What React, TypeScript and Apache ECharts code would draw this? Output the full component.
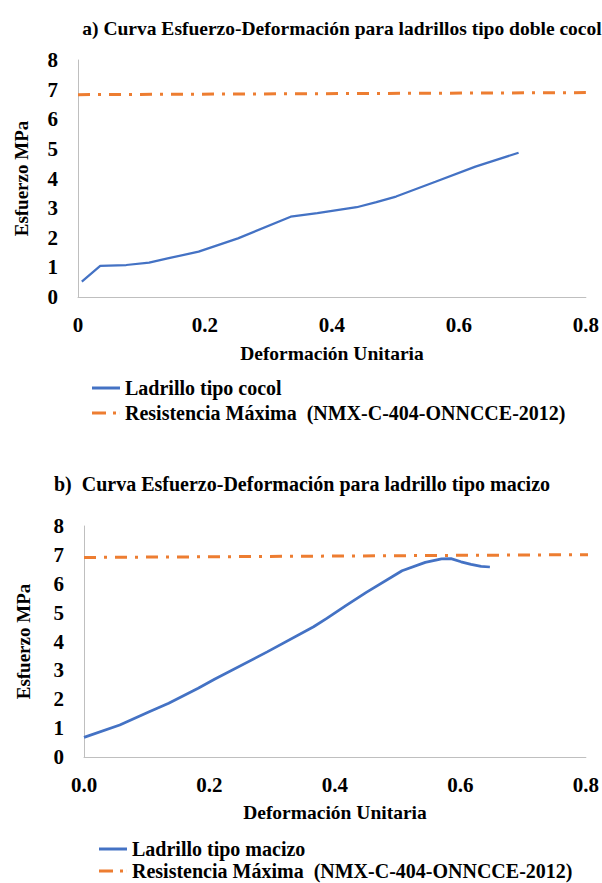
import React, { useEffect, useRef } from "react";
import * as echarts from "echarts";

const titleA = "a) Curva Esfuerzo-Deformación para ladrillos tipo doble cocol";
const titleB = "b)  Curva Esfuerzo-Deformación para ladrillo tipo macizo";
const xName = "Deformación Unitaria";
const yName = "Esfuerzo MPa";
const seriesA = "Ladrillo tipo cocol";
const seriesB = "Ladrillo tipo macizo";
const seriesLimit = "Resistencia Máxima  (NMX-C-404-ONNCCE-2012)";

const cocolCurve: [number, number][] = [
  [0.006, 0.52], [0.035, 1.05], [0.076, 1.08], [0.112, 1.16], [0.143, 1.31],
  [0.19, 1.53], [0.252, 1.98], [0.335, 2.71], [0.377, 2.83], [0.439, 3.03],
  [0.47, 3.2], [0.501, 3.39], [0.563, 3.89], [0.626, 4.4], [0.694, 4.87],
];
const cocolLimit: [number, number][] = [[0, 6.83], [0.8, 6.9]];

const macizoCurve: [number, number][] = [
  [0, 0.68], [0.057, 1.11], [0.104, 1.57], [0.135, 1.86], [0.182, 2.38],
  [0.208, 2.69], [0.292, 3.64], [0.366, 4.51], [0.387, 4.8], [0.418, 5.25],
  [0.45, 5.7], [0.507, 6.45], [0.544, 6.74], [0.57, 6.86], [0.585, 6.87],
  [0.601, 6.76], [0.617, 6.67], [0.633, 6.6], [0.647, 6.58],
];
const macizoLimit: [number, number][] = [[0, 6.91], [0.815, 7.01]];

const FONT = "Liberation Serif, Times New Roman, serif";
const BLUE = "#4472C4";
const ORANGE = "#ED7D31";
const AXIS = "#BFBFBF";

const ICON_SOLID = "path://M0,0 L28,0 L28,3 L0,3 Z";
const ICON_DASHDOT = "path://M0,0 L14,0 L14,3 L0,3 Z M21,0 L24,0 L24,3 L21,3 Z M27.9,0 L28,0 L28,3 L27.9,3 Z";

export default function App() {
  const ref = useRef<HTMLDivElement>(null);
  useEffect(() => {
    if (!ref.current) return;
    const chart = echarts.init(ref.current, undefined, { renderer: "svg" });
    const xAxisBase = (gridIndex: number, nameGap: number, fmt: (v: number) => string) => ({
      type: "value" as const,
      gridIndex,
      min: 0,
      max: 0.8,
      interval: 0.2,
      name: xName,
      nameLocation: "middle" as const,
      nameGap,
      nameTextStyle: { fontFamily: FONT, fontWeight: "bold", fontSize: 19.5, color: "#000" },
      axisLine: { show: true, lineStyle: { color: AXIS, width: 1 } },
      axisTick: { show: false },
      splitLine: { show: false },
      axisLabel: {
        fontFamily: FONT, fontWeight: "bold", fontSize: 21, color: "#000", margin: 17,
        formatter: fmt,
      },
    });
    const yAxisBase = (gridIndex: number, nameGap: number) => ({
      type: "value" as const,
      gridIndex,
      min: 0,
      max: 8,
      interval: 1,
      name: yName,
      nameLocation: "middle" as const,
      nameGap,
      nameTextStyle: { fontFamily: FONT, fontWeight: "bold", fontSize: 19, color: "#000" },
      axisLine: { show: true, lineStyle: { color: AXIS, width: 1 } },
      axisTick: { show: false },
      splitLine: { show: false },
      axisLabel: { fontFamily: FONT, fontWeight: "bold", fontSize: 21, color: "#000", margin: 20 },
    });
    const limitStyle = { color: ORANGE, width: 3, type: [12, 8, 3, 8] as number[] };
    const legendText = { fontFamily: FONT, fontWeight: "bold", fontSize: 20, color: "#000" };
    const legendItem = (name: string, icon: string, left: number, top: number, color: string) => ({
      orient: "horizontal", left, top, padding: 0, itemWidth: 28, itemHeight: 3, itemGap: 8,
      icon, data: [{ name, icon, itemStyle: { color } }],
      textStyle: legendText,
    });
    chart.setOption({
      animation: false,
      backgroundColor: "#fff",
      title: [
        {
          text: titleA, left: 337, top: 13, textAlign: "center",
          textStyle: { fontFamily: FONT, fontWeight: "bold", fontSize: 19.5, color: "#000" },
        },
        {
          text: titleB, left: 297, top: 469, textAlign: "center",
          textStyle: { fontFamily: FONT, fontWeight: "bold", fontSize: 20, color: "#000" },
        },
      ],
      legend: [
        legendItem(seriesA, ICON_SOLID, 92, 378, BLUE),
        legendItem(seriesLimit, ICON_DASHDOT, 92, 403, ORANGE),
        legendItem(seriesB, ICON_SOLID, 99, 839, BLUE),
        legendItem(seriesLimit + " ", ICON_DASHDOT, 99, 861, ORANGE),
      ],
      grid: [
        { left: 78, right: 10, top: 60, height: 237 },
        { left: 84, right: 9, top: 526, height: 231 },
      ],
      xAxis: [
        xAxisBase(0, 46, (v: number) => (v === 0 ? "0" : v.toFixed(1))),
        xAxisBase(1, 45, (v: number) => v.toFixed(1)),
      ],
      yAxis: [yAxisBase(0, 47), yAxisBase(1, 51)],
      series: [
        {
          name: seriesA, type: "line", xAxisIndex: 0, yAxisIndex: 0, data: cocolCurve,
          showSymbol: false, symbol: "none", lineStyle: { color: BLUE, width: 2.25 },
          itemStyle: { color: BLUE },
        },
        {
          name: seriesLimit, type: "line", xAxisIndex: 0, yAxisIndex: 0, data: cocolLimit,
          showSymbol: false, symbol: "none", lineStyle: limitStyle, itemStyle: { color: ORANGE },
        },
        {
          name: seriesB, type: "line", xAxisIndex: 1, yAxisIndex: 1, data: macizoCurve,
          showSymbol: false, symbol: "none", lineStyle: { color: BLUE, width: 2.75 },
          itemStyle: { color: BLUE },
        },
        {
          name: seriesLimit + " ", type: "line", xAxisIndex: 1, yAxisIndex: 1, data: macizoLimit,
          showSymbol: false, symbol: "none", lineStyle: limitStyle, itemStyle: { color: ORANGE },
        },
      ],
    });
    return () => chart.dispose();
  }, []);
  return (
    <div
      ref={ref}
      style={{ position: "absolute", left: 0, top: 0, width: 602, height: 883, background: "#fff" }}
    />
  );
}
